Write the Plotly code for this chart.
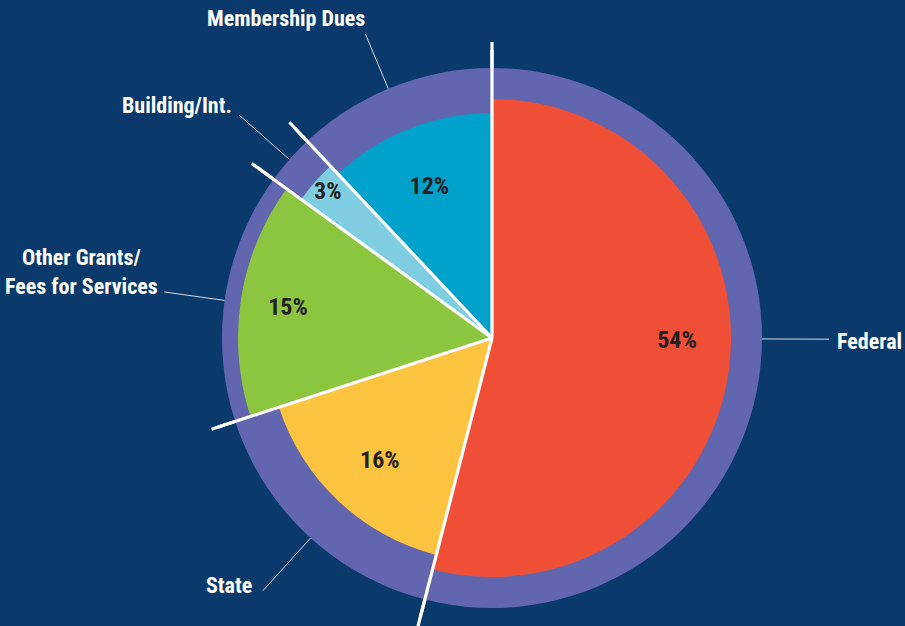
import math
import plotly.graph_objects as go

# ---------------- data ----------------
categories = ["Federal", "State", "Other Grants/<br>Fees for Services", "Building/Int.", "Membership Dues"]
percent = [54, 16, 15, 3, 12]
pct_labels = [f"{p}%" for p in percent]

# ---------------- style ----------------
W, H = 905, 626
CX, CY = 492, 338          # pie centre in page pixels
R_PIX = 288                # pixel radius of the polar area (radial range = pixels)
BG = "#0a3a6b"
RING = "#6166ae"
colors = ["#ef4f37", "#fec33f", "#8cc63f", "#7fcde1", "#00a1cb"]
slice_r = [239, 224, 254, 236, 225]     # slight radius variation per slice
ring_r = 270
sep_r = [296, 305, 295, 297, 296]        # white separator length at each slice start
pct_r = [185, 167, 206, 219, 163]
pct_shift = [-6, -1, -1, 0, -1]
lead_shift = [-7, -1, -1, 0, -1]
lead_r0 = 270
lead_r1 = [337, 341, 331, 337, 329]
FONT = "Liberation Sans Narrow, Roboto Condensed, DejaVu Sans Condensed, Arial Narrow, sans-serif"

label_pos = [(869, 341), (229, 585), (81.5, 271.5), (177, 106), (285.5, 18)]

# ---------------- geometry from data ----------------
spans = [p * 3.6 for p in percent]
starts = []
acc = 0
for s in spans:
    starts.append(acc)
    acc += s
mids = [st + sp / 2 for st, sp in zip(starts, spans)]


def to_xy(r, theta):
    """clockwise-from-top polar -> cartesian pixel frame centred on the pie (y up)."""
    t = math.radians(theta)
    return r * math.sin(t), r * math.cos(t)


fig = go.Figure()

# purple ring (full disk behind the slices)
fig.add_trace(go.Barpolar(r=[ring_r], theta=[0], width=[360], marker=dict(color=RING, line=dict(width=0)),
                          hoverinfo="skip", showlegend=False))

# slices
fig.add_trace(go.Barpolar(r=slice_r, theta=mids, width=spans,
                          marker=dict(color=colors, line=dict(width=0)),
                          hoverinfo="skip", showlegend=False))

# separators inside the polar area
sr, st_ = [], []
for s0 in starts:
    sr += [0, R_PIX, None]
    st_ += [s0, s0, None]
fig.add_trace(go.Scatterpolar(r=sr, theta=st_, mode="lines", line=dict(color="white", width=3.2),
                              hoverinfo="skip", showlegend=False))

# percentage labels
fig.add_trace(go.Scatterpolar(r=pct_r, theta=[m + s for m, s in zip(mids, pct_shift)], mode="text",
                              text=pct_labels,
                              textfont=dict(family=FONT, size=24, color="#231f20", weight="bold"),
                              hoverinfo="skip", showlegend=False))

# separators (full length) on a pixel cartesian frame
sx, sy = [], []
for s0, rr in zip(starts, sep_r):
    x1, y1 = to_xy(rr, s0)
    sx += [0, x1, None]
    sy += [0, y1, None]
fig.add_trace(go.Scatter(x=sx, y=sy, mode="lines", line=dict(color="white", width=3.2),
                         hoverinfo="skip", showlegend=False, cliponaxis=False))

# leader lines
lx, ly = [], []
for m, sh, r1 in zip(mids, lead_shift, lead_r1):
    x0, y0 = to_xy(lead_r0, m + sh)
    x1, y1 = to_xy(r1, m + sh)
    lx += [x0, x1, None]
    ly += [y0, y1, None]
fig.add_trace(go.Scatter(x=lx, y=ly, mode="lines", line=dict(color="#d2d9e6", width=1),
                         hoverinfo="skip", showlegend=False, cliponaxis=False))

# outer category labels
annotations = []
for name, (px, py) in zip(categories, label_pos):
    annotations.append(dict(x=px / W, y=1 - py / H, xref="paper", yref="paper", text=name,
                            showarrow=False, xanchor="center", yanchor="middle", align="center",
                            font=dict(family=FONT, size=22, color="white", weight="bold")))

fig.update_layout(
    width=W, height=H,
    margin=dict(l=0, r=0, t=0, b=0),
    paper_bgcolor=BG, plot_bgcolor="rgba(0,0,0,0)",
    showlegend=False,
    annotations=annotations,
    xaxis=dict(range=[-CX, W - CX], domain=[0, 1], visible=False, fixedrange=True),
    yaxis=dict(range=[-(H - CY), CY], domain=[0, 1], visible=False, fixedrange=True),
    polar=dict(
        domain=dict(x=[(CX - R_PIX) / W, (CX + R_PIX) / W],
                    y=[(H - CY - R_PIX) / H, (H - CY + R_PIX) / H]),
        bgcolor="rgba(0,0,0,0)",
        barmode="overlay", bargap=0,
        radialaxis=dict(range=[0, R_PIX], visible=False, showgrid=False),
        angularaxis=dict(direction="clockwise", rotation=90, visible=False, showgrid=False),
    ),
)

fig.write_html("out.html")
